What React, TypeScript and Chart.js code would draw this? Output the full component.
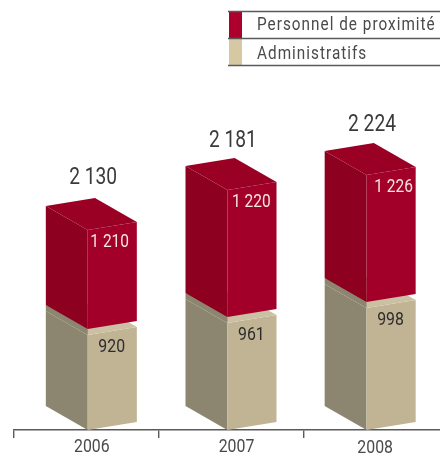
import React, { useEffect, useRef } from "react";
import { Chart, registerables } from "chart.js";

Chart.register(...registerables);

const years = ["2006", "2007", "2008"];
const seriesNames = { personnel: "Personnel de proximité", admin: "Administratifs" };
// Printed figures
const personnelLabels = ["1 210", "1 220", "1 226"];
const adminLabels = ["920", "961", "998"];
const totalLabels = ["2 130", "2 181", "2 224"];
// Heights: the source's bars are not drawn in proportion to their printed figures
const adminHeights = [95, 107, 122];
const personnelHeights = [105, 133, 133];

const RED = { front: "#a30029", side: "#8e001f", top: "#9a0024" };
const TAN = { front: "#c1b495", side: "#8c8570", top: "#cbc0a3" };
const INK = "#3a3a3a";
const FONT = 'Roboto, sans-serif';

const barShift = [5, 0, -5.5];
const tickNudge = [5.5, 5.5, -0.5];
const tickDrop = [0, 0, 1];
const totalRise = [54, 51, 52];
const valueNudge = [-1, 1, 4];

const poly = (ctx: CanvasRenderingContext2D, pts: number[][], fill: string) => {
  ctx.fillStyle = fill;
  ctx.beginPath();
  pts.forEach((p, i) => (i ? ctx.lineTo(p[0], p[1]) : ctx.moveTo(p[0], p[1])));
  ctx.closePath();
  ctx.fill();
};

const text = (
  ctx: CanvasRenderingContext2D,
  s: string,
  x: number,
  y: number,
  size: number,
  color: string,
  squeeze: number,
  align: CanvasTextAlign = "center",
  spacing = 0
) => {
  ctx.save();
  ctx.translate(x, y + 1.5);
  ctx.scale(squeeze, 1);
  ctx.font = `${size}px ${FONT}`;
  ctx.fillStyle = color;
  ctx.textAlign = align;
  ctx.textBaseline = "middle";
  (ctx as any).letterSpacing = `${spacing}px`;
  ctx.fillText(s, 0, 0);
  ctx.restore();
};

const prism = (ctx: CanvasRenderingContext2D, el: any, shift: number, lift: number, c: typeof RED, splitTop: boolean) => {
  const left = el.x - el.width / 2 + shift;
  const right = left + el.width;
  const front = left + el.width * 0.46;
  const dl = 24;
  const dr = 8;
  const top = el.y;
  const bot = el.base - lift;
  poly(ctx, [[left, bot - dl], [front, bot], [front, top], [left, top - dl]], c.side);
  poly(ctx, [[front, bot], [right, bot - dr], [right, top - dr], [front, top]], c.front);
  poly(ctx, [[front, top], [right, top - dr], [right + left - front, top - dl - dr], [left, top - dl]], c.top);
  if (splitTop) {
    // the part of the lower block's top to the left of the corner reads as the side colour
    poly(ctx, [[left, top - dl], [front, top], [front, top - 14], [left, top - dl - 6]], c.side);
  }
};

const prismPlugin = {
  id: "prisms",
  beforeDatasetDraw: () => false,
  afterDatasetsDraw(chart: any) {
    const ctx: CanvasRenderingContext2D = chart.ctx;
    const adminBars = chart.getDatasetMeta(0).data;
    const persBars = chart.getDatasetMeta(1).data;
    ctx.save();
    years.forEach((y, i) => {
      const a = adminBars[i];
      const p = persBars[i];
      prism(ctx, a, barShift[i], 0, TAN, true);
      prism(ctx, p, barShift[i], 6, RED, false);
      const left = a.x - a.width / 2 + barShift[i];
      const front = left + a.width * 0.46;
      text(ctx, adminLabels[i], front + 24, a.y + 10.5, 18, "#2c2c2c", 0.88);
      text(ctx, personnelLabels[i], front + 23 + valueNudge[i], p.y + 10.5, 18, "#f4e6e0", 0.86);
      text(ctx, totalLabels[i], front + 5.5, p.y - totalRise[i], 24, INK, 0.8);
      const sx = chart.scales.x;
      text(ctx, y, sx.getPixelForTick(i) + tickNudge[i], 446 + tickDrop[i], 18, "#4a4a4a", 0.88);
    });

    // legend block
    const ds = chart.data.datasets;
    const rows = [ds[1], ds[0]];
    rows.forEach((d: any, i: number) => {
      ctx.fillStyle = d.legendColor;
      ctx.fillRect(229, 12 + i * 27, 13, 26);
      text(ctx, d.label, 257, 23.5 + i * 29, 18, "#4a4a4a", 0.85, "left", 1.2);
    });
    ctx.strokeStyle = "#5a5a5a";
    ctx.lineWidth = 1.4;
    [11.5, 38.5, 65.5].forEach((ly) => {
      ctx.beginPath();
      ctx.moveTo(228, ly);
      ctx.lineTo(440, ly);
      ctx.stroke();
    });
    ctx.restore();
  },
};

export default function App() {
  const ref = useRef<HTMLCanvasElement>(null);
  useEffect(() => {
    const chart = new Chart(ref.current!, {
      type: "bar",
      data: {
        labels: years,
        datasets: [
          { label: seriesNames.admin, data: adminHeights, backgroundColor: TAN.front, legendColor: "#d6c8a2", stack: "s" } as any,
          { label: seriesNames.personnel, data: personnelHeights, backgroundColor: RED.front, legendColor: "#ad002c", stack: "s" } as any,
        ],
      },
      options: {
        responsive: false,
        animation: false,
        layout: { padding: { left: 14, right: 0, top: 0, bottom: 0 } },
        datasets: { bar: { categoryPercentage: 1, barPercentage: 91 / 144.67 } },
        plugins: { legend: { display: false }, tooltip: { enabled: false }, title: { display: false } },
        scales: {
          x: {
            stacked: true,
            afterFit: (s: any) => {
              s.height = 26;
            },
            grid: { offset: true, drawOnChartArea: false, drawTicks: true, tickLength: 8, color: "#5a5a5a", lineWidth: 1.4 },
            border: { display: true, color: "#5a5a5a", width: 1.4 },
            ticks: { display: false },
          },
          y: { stacked: true, display: false, min: 0, max: 430 },
        },
      } as any,
      plugins: [prismPlugin],
    });
    return () => chart.destroy();
  }, []);
  return (
    <div style={{ position: "absolute", left: 0, top: 0, width: 440, height: 456, overflow: "hidden", background: "#fff" }}>
      <canvas ref={ref} width={448} height={456} style={{ display: "block", filter: "blur(0.55px)" }} />
    </div>
  );
}
